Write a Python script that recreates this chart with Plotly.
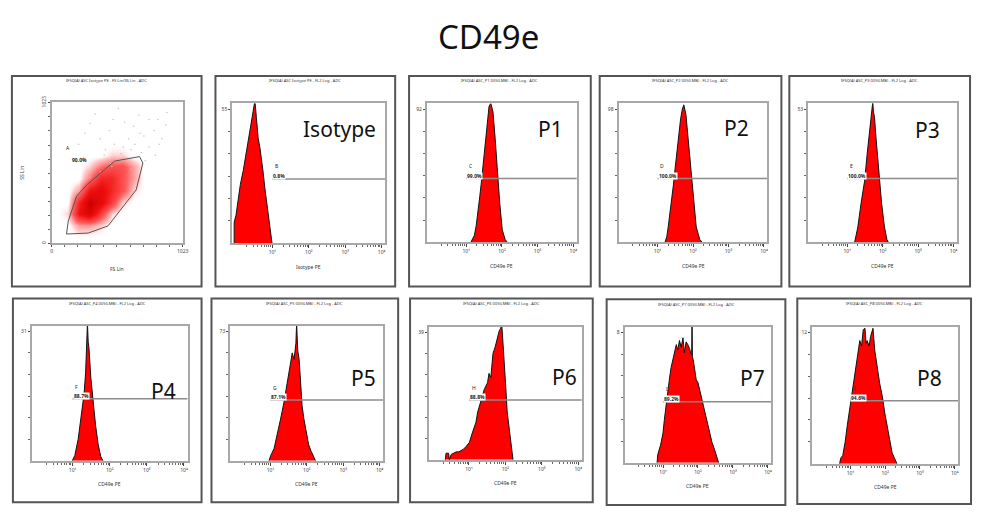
import plotly.graph_objects as go

W, H = 982, 512

# ---------------- data ----------------
title_text = "CD49e"
panel_names = ["Isotype", "P1", "P2", "P3", "P4", "P5", "P6", "P7", "P8"]
gate_letters = ["B", "C", "D", "E", "F", "G", "H", "I", "J"]
gate_percent = ["0.8%", "99.0%", "100.0%", "100.0%", "88.7%", "87.1%", "88.8%", "89.2%", "94.6%"]
ymax_labels = ["55", "92", "98", "53", "31", "73", "39", "8", "12"]
gate_level = [46, 46, 46, 46, 46, 45, 45, 45, 46]
x_titles = ["Isotype PE"] + ["CD49e PE"] * 8
top_titles = ["IFSQ(A) ASC Isotype PE - FL2 Log - ADC"] + \
             ["IFSQ(A) ASC_P%d 005(LMB) - FL2 Log - ADC" % i for i in range(1, 9)]
decade_ticks = [10, 100, 1000, 10000]
decade_labels = ["10\u00b9", "10\u00b2", "10\u00b3", "10\u2074"]

iso_log = [-0.05, -0.05, 0.00, 0.06, 0.12, 0.20, 0.27, 0.34, 0.39, 0.43, 0.47, 0.50, 0.52,
           0.56, 0.61, 0.66, 0.70, 0.75, 0.79, 0.84, 0.88, 0.94, 0.99]
iso_cnt = [0, 15, 20, 33, 42, 52, 63, 75, 82, 89, 93, 99, 102, 90, 75, 68, 61, 50, 40, 30, 19, 8, 0]

p1_log = [1.13, 1.18, 1.23, 1.28, 1.32, 1.38, 1.42, 1.46, 1.53, 1.57, 1.60, 1.64, 1.69, 1.72,
          1.75, 1.81, 1.87, 1.94, 2.01, 2.09, 2.15]
p1_cnt = [0, 2, 5, 12, 19, 33, 42, 52, 71, 80, 87, 98, 100, 97, 94, 75, 52, 28, 9, 2, 0]

p2_log = [1.21, 1.26, 1.30, 1.39, 1.45, 1.49, 1.58, 1.65, 1.70, 1.74, 1.80, 1.86, 1.90, 1.94,
          2.02, 2.09, 2.19, 2.26]
p2_cnt = [0, 4, 11, 28, 42, 52, 75, 89, 96, 99, 92, 75, 63, 52, 28, 11, 2, 0]

p3_log = [1.21, 1.30, 1.39, 1.49, 1.56, 1.63, 1.67, 1.70, 1.72, 1.74, 1.77, 1.81, 1.86, 1.91,
          1.97, 2.05, 2.12, 2.16]
p3_cnt = [0, 11, 28, 44, 63, 80, 91, 95, 101, 94, 90, 76, 61, 44, 28, 11, 2, 0]

p4_log = [0.99, 1.06, 1.15, 1.24, 1.31, 1.35, 1.38, 1.40, 1.42, 1.44, 1.49, 1.55, 1.62, 1.69,
          1.76, 1.82]
p4_cnt = [0, 4, 16, 33, 50, 65, 82, 102, 88, 84, 62, 43, 26, 12, 3, 0]

p5_log = [0.96, 1.01, 1.10, 1.19, 1.28, 1.37, 1.46, 1.54, 1.60, 1.65, 1.68, 1.70, 1.72, 1.75,
          1.79, 1.83, 1.87, 1.92, 1.99, 2.05, 2.12, 2.19, 2.24]
p5_cnt = [0, 4, 9, 19, 31, 43, 58, 70, 80, 75, 84, 87, 102, 82, 75, 56, 41, 31, 21, 12, 7, 3, 0]

p6_log = [0.35, 0.37, 0.44, 0.46, 0.51, 0.58, 0.65, 0.72, 0.78, 0.85, 0.92, 1.01, 1.10, 1.19,
          1.24, 1.33, 1.42, 1.51, 1.55, 1.60, 1.63, 1.66, 1.72, 1.78, 1.83, 1.87, 1.90, 1.92,
          1.96, 2.01, 2.05, 2.12, 2.17, 2.21]
p6_cnt = [0, 5, 5, 0, 4, 5, 6, 6, 7, 8, 10, 13, 21, 28, 36, 45, 53, 58, 65, 62, 70, 80, 85, 92,
          97, 99, 102, 94, 72, 55, 36, 18, 6, 0]

p7_log = [0.83, 0.85, 0.93, 1.00, 1.04, 1.09, 1.14, 1.19, 1.23, 1.28, 1.33, 1.38, 1.42, 1.47,
          1.52, 1.57, 1.61, 1.66, 1.71, 1.76, 1.80, 1.82, 1.83, 1.84, 1.87, 1.95, 2.00, 2.07,
          2.14, 2.23, 2.33, 2.40, 2.47, 2.55, 2.59]
p7_cnt = [0, 6, 13, 22, 32, 44, 56, 63, 70, 75, 80, 87, 83, 90, 85, 92, 81, 89, 87, 84, 80, 80,
          102, 78, 75, 61, 59, 51, 44, 34, 22, 15, 10, 4, 0]

p8_log = [0.69, 0.72, 0.78, 0.85, 0.91, 0.99, 1.07, 1.13, 1.18, 1.23, 1.27, 1.32, 1.37, 1.42,
          1.45, 1.48, 1.54, 1.58, 1.62, 1.65, 1.70, 1.75, 1.80, 1.84, 1.92, 1.99, 2.05, 2.13,
          2.20, 2.27, 2.34]
p8_cnt = [0, 4, 6, 16, 28, 42, 57, 69, 76, 83, 90, 86, 98, 99, 88, 90, 86, 93, 98, 99, 83, 76,
          66, 59, 49, 37, 28, 18, 8, 4, 0]

hist_logs = [iso_log, p1_log, p2_log, p3_log, p4_log, p5_log, p6_log, p7_log, p8_log]
hist_cnts = [iso_cnt, p1_cnt, p2_cnt, p3_cnt, p4_cnt, p5_cnt, p6_cnt, p7_cnt, p8_cnt]

# FS/SS dot plot: density grid (rows = SS bins from bottom, cols = FS bins)
fs_centers = [43, 128, 213, 298, 384, 469, 554, 639, 725, 810, 895, 980]
ss_centers = [43, 128, 213, 298, 384, 469, 554, 639, 725, 810, 895, 980]
density = [
    [0, 0, 0, 0, 0, 0, 0, 0, 0, 0, 0, 0],
    [0, 0, 2, 2, 1, 0, 0, 0, 0, 0, 0, 0],
    [0, 1, 7, 9, 5, 1, 0, 0, 0, 0, 0, 0],
    [0, 0, 6, 10, 8, 5, 1, 0, 0, 0, 0, 0],
    [0, 0, 2, 7, 8, 6, 4, 1, 0, 0, 0, 0],
    [0, 0, 0, 3, 6, 6, 4, 2, 0, 0, 0, 0],
    [0, 0, 0, 1, 3, 4, 4, 2, 0, 0, 0, 0],
    [0, 0, 0, 0, 0, 1, 1, 0, 0, 0, 0, 0],
    [0, 0, 0, 0, 0, 0, 0, 0, 0, 0, 0, 0],
    [0, 0, 0, 0, 0, 0, 0, 0, 0, 0, 0, 0],
    [0, 0, 0, 0, 0, 0, 0, 0, 0, 0, 0, 0],
    [0, 0, 0, 0, 0, 0, 0, 0, 0, 0, 0, 0],
]
bg_fs = [210, 260, 300, 340, 380, 420, 450, 480, 520, 560, 600, 640, 680, 700, 720, 760, 800, 830,
         860, 900, 250, 330, 410, 490, 570, 650, 730, 810, 890, 470, 550, 620, 690, 760, 840, 300,
         380, 460, 540, 620]
bg_ss = [720, 800, 870, 940, 760, 680, 820, 900, 980, 700, 760, 850, 930, 660, 780, 700, 820, 900,
         760, 950, 620, 560, 640, 720, 880, 720, 600, 640, 860, 560, 600, 680, 800, 900, 720, 480,
         520, 580, 650, 540]
gate_fs = [116, 130, 194, 272, 492, 557, 686, 712, 660, 440, 285, 116]
gate_ss = [67, 162, 340, 423, 597, 607, 630, 583, 388, 126, 74, 67]

# ---------------- layout geometry (pixels) ----------------
scatter_frame = (11, 70, 202, 284)
scatter_plot = (51, 97, 183, 240)
hist_frames = [
    (216, 70, 397, 284), (411, 70, 594, 284), (603, 70, 786, 284), (794, 70, 976, 284),
    (12, 296, 202, 503), (212, 296, 400, 503), (412, 296, 596, 503), (610, 297, 790, 506),
    (802, 296, 977, 505),
]
hist_plots = [
    (233, 98, 387, 240), (429, 98, 580, 239), (622, 98, 772, 239), (813, 98, 963, 239),
    (31, 324, 188, 461), (231, 324, 385, 461), (431, 325, 585, 460), (628, 325, 776, 463),
    (817, 325, 964, 464),
]
big_label_pos = [(341, 124), (553, 124), (741, 123), (933, 125), (164, 390), (365, 377),
                 (568, 376), (757, 377), (935, 377)]


def fx(p):
    return p / W


def fy(p):
    return 1 - p / H


def paper_text(px, py, text, size, color="#333", angle=0, family=None):
    d = dict(x=fx(px), y=fy(py), xref="paper", yref="paper", text=text, showarrow=False,
             xanchor="center", yanchor="middle", textangle=angle,
             font=dict(size=size, color=color))
    if family:
        d["font"]["family"] = family
    return d


fig = go.Figure()
shapes = []
annotations = []
layout = dict(
    width=W, height=H, margin=dict(l=0, r=0, t=0, b=0, pad=0),
    paper_bgcolor="white", plot_bgcolor="white", showlegend=False,
    font=dict(family="Noto Sans, DejaVu Sans, sans-serif", color="#222"),
)

axis_line = dict(showline=True, mirror=True, linecolor="#a8a8a8", linewidth=2,
                 showgrid=False, zeroline=False, fixedrange=True)

# ---------- scatter panel ----------
l, t, r, b = scatter_plot
layout["xaxis"] = dict(axis_line, domain=[fx(l), fx(r)], range=[0, 1023], anchor="y",
                       tickvals=[0, 1023], ticktext=["0", "1023"], ticks="outside", ticklen=2,
                       tickfont=dict(size=5, color="#444"),
                       minor=dict(tickvals=[102 * i for i in range(1, 10)], ticks="outside",
                                  ticklen=2, tickcolor="#666"))
layout["yaxis"] = dict(axis_line, domain=[fy(b), fy(t)], range=[0, 1023], anchor="x",
                       tickvals=[0, 1023], ticktext=["0", "1023"], ticks="outside", ticklen=2,
                       tickfont=dict(size=5, color="#444"), tickangle=-90,
                       minor=dict(tickvals=[102 * i for i in range(1, 10)], ticks="outside",
                                  ticklen=2, tickcolor="#666"))
fig.add_trace(go.Heatmap(x=fs_centers, y=ss_centers, z=density, zsmooth="best",
                         colorscale=[[0, "rgba(255,255,255,0)"], [0.1, "rgba(255,205,205,1)"],
                                     [0.35, "#ff5a5a"], [0.7, "#f01010"], [1, "#d00000"]],
                         showscale=False, hoverinfo="skip", xaxis="x", yaxis="y"))
fig.add_trace(go.Scatter(x=bg_fs, y=bg_ss, mode="markers",
                         marker=dict(size=1.5, color="#c4c4c4"), xaxis="x", yaxis="y"))
fig.add_trace(go.Scatter(x=gate_fs, y=gate_ss, mode="lines",
                         line=dict(color="#555", width=1), xaxis="x", yaxis="y"))
annotations += [
    dict(x=130, y=690, xref="x", yref="y", text="A", showarrow=False,
         font=dict(size=5, color="#222")),
    dict(x=215, y=605, xref="x", yref="y", text="<b>90.0%</b>", showarrow=False,
         font=dict(size=5, color="#222")),
    paper_text((l + r) / 2, 266, "FS Lin", 5),
    paper_text(21, (t + b) / 2, "SS Lin", 5, angle=-90),
    paper_text((scatter_frame[0] + scatter_frame[2]) / 2, scatter_frame[1] + 5,
               "IFSQ(A) ASC Isotype PE - FS Lin/SS Lin - ADC", 4),
]
shapes.append(dict(type="rect", xref="paper", yref="paper",
                   x0=fx(scatter_frame[0]), x1=fx(scatter_frame[2]),
                   y0=fy(scatter_frame[3]), y1=fy(scatter_frame[1]),
                   line=dict(color="#555", width=2)))

# ---------- histogram panels ----------
minor_log = [m * 10 ** k for k in range(0, 4) for m in range(2, 10)]
for i in range(9):
    n = i + 2
    xa, ya = "x%d" % n, "y%d" % n
    l, t, r, b = hist_plots[i]
    layout["xaxis%d" % n] = dict(axis_line, type="log", domain=[fx(l), fx(r)],
                                 range=[-0.1, 4.1], anchor=ya, tickvals=decade_ticks,
                                 ticktext=decade_labels, ticks="outside", ticklen=3,
                                 tickfont=dict(size=5, color="#444"),
                                 minor=dict(tickvals=minor_log, ticks="outside", ticklen=2,
                                            tickcolor="#666"))
    layout["yaxis%d" % n] = dict(axis_line, domain=[fy(b), fy(t)], range=[0, 100],
                                 anchor=xa, tickvals=[96], ticktext=[ymax_labels[i]],
                                 ticks="outside", ticklen=2,
                                 tickfont=dict(size=5, color="#444"),
                                 minor=dict(tickvals=[16, 32, 48, 64, 80], ticks="outside",
                                            ticklen=2, tickcolor="#666"))
    fig.add_trace(go.Scatter(x=[10 ** v for v in hist_logs[i]], y=hist_cnts[i], mode="lines",
                             fill="tozeroy", fillcolor="#ff0000",
                             line=dict(color="#111", width=1), xaxis=xa, yaxis=ya))
    fig.add_trace(go.Scatter(x=[10, 10 ** 4.1], y=[gate_level[i], gate_level[i]],
                             mode="lines", line=dict(color="#8c8c8c", width=1.5),
                             xaxis=xa, yaxis=ya))
    annotations += [
        dict(x=1.02, y=gate_level[i] + 9, xref=xa, yref=ya, text=gate_letters[i],
             showarrow=False, xanchor="left", yanchor="middle",
             font=dict(size=5, color="#222")),
        dict(x=1.0, y=gate_level[i] + 2, xref=xa, yref=ya, text="<b>%s</b>" % gate_percent[i],
             showarrow=False, xanchor="left", yanchor="middle", bgcolor="white", borderpad=0,
             font=dict(size=5, color="#222")),
        paper_text(big_label_pos[i][0], big_label_pos[i][1], panel_names[i], 21, "#111",
                   family="Noto Sans, DejaVu Sans, sans-serif"),
        paper_text((l + r) / 2, b + 24, x_titles[i], 5),
        paper_text((hist_frames[i][0] + hist_frames[i][2]) / 2, hist_frames[i][1] + 5,
                   top_titles[i], 4),
    ]
    f = hist_frames[i]
    shapes.append(dict(type="rect", xref="paper", yref="paper", x0=fx(f[0]), x1=fx(f[2]),
                       y0=fy(f[3]), y1=fy(f[1]), line=dict(color="#555", width=2)))

annotations.append(paper_text(491, 30, title_text, 33, "#111",
                              family="Noto Sans, DejaVu Sans, sans-serif"))

layout["shapes"] = shapes
layout["annotations"] = annotations
fig.update_layout(**layout)
fig.write_html("out.html", config={"displayModeBar": False},
               post_script="document.body.style.margin='0';"
                           "document.body.style.overflow='hidden';")
